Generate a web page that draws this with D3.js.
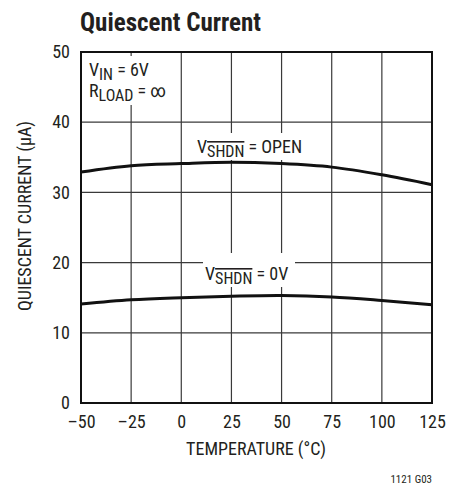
<!DOCTYPE html>
<html>
<head>
<meta charset="utf-8">
<script src="https://cdn.jsdelivr.net/npm/d3@7"></script>
<style>
  body { margin: 0; background: #fff; }
  text { font-family: "Roboto Condensed", "DejaVu Sans Condensed", sans-serif; fill: #231f20; }
</style>
</head>
<body>
<div id="chart"></div>
<script>
// chart values
const temps = [-50, -25, 0, 25, 50, 75, 100, 125];
const openCurrent = [32.9, 33.8, 34.1, 34.3, 34.1, 33.6, 32.5, 31.1];
const zeroCurrent = [14.1, 14.7, 15.0, 15.2, 15.3, 15.1, 14.6, 14.0];
const xTicks = [-50, -25, 0, 25, 50, 75, 100, 125];
const yTicks = [0, 10, 20, 30, 40, 50];

const width = 459, height = 489;
const margin = { top: 52, right: 27, bottom: 86, left: 81 };

const svg = d3.select('#chart').append('svg')
    .attr('width', width)
    .attr('height', height);

const xScale = d3.scaleLinear()
    .domain([-50, 125])
    .range([margin.left, width - margin.right]);

const yScale = d3.scaleLinear()
    .domain([0, 50])
    .range([height - margin.bottom, margin.top]);

const fmt = d => d < 0 ? '\u2013' + Math.abs(d) : String(d);

// grid lines
const grid = svg.append('g');
grid.selectAll('.vg')
    .data(xTicks)
    .enter().append('line')
    .attr('x1', d => xScale(d)).attr('x2', d => xScale(d))
    .attr('y1', yScale(0)).attr('y2', yScale(50))
    .attr('stroke', '#3a3a3a').attr('stroke-width', 1.2);
grid.selectAll('.hg')
    .data(yTicks)
    .enter().append('line')
    .attr('x1', xScale(-50)).attr('x2', xScale(125))
    .attr('y1', d => yScale(d)).attr('y2', d => yScale(d))
    .attr('stroke', '#3a3a3a').attr('stroke-width', 1.2);

// axes (labels only, the frame is drawn separately)
const xAxis = d3.axisBottom(xScale).tickValues(xTicks).tickSize(0).tickPadding(12).tickFormat(fmt);
svg.append('g')
    .attr('transform', `translate(0,${yScale(0)})`)
    .call(xAxis)
    .call(g => g.select('.domain').remove())
    .selectAll('text')
    .style('font-size', '18px')
    .attr('font-family', null);

const yAxis = d3.axisLeft(yScale).tickValues(yTicks).tickSize(0).tickPadding(11).tickFormat(fmt);
svg.append('g')
    .attr('transform', `translate(${xScale(-50)},0)`)
    .call(yAxis)
    .call(g => g.select('.domain').remove())
    .selectAll('text')
    .style('font-size', '18px')
    .attr('font-family', null);

// frame
svg.append('rect')
    .attr('x', xScale(-50)).attr('y', yScale(50))
    .attr('width', xScale(125) - xScale(-50))
    .attr('height', yScale(0) - yScale(50))
    .attr('fill', 'none')
    .attr('stroke', '#111')
    .attr('stroke-width', 2);

// white boxes behind annotations
function labelBox(x, y, w, h) {
    svg.append('rect')
        .attr('x', x).attr('y', y).attr('width', w).attr('height', h)
        .attr('fill', '#fff');
}
labelBox(83, 56, 92, 49);
labelBox(193, 133, 119, 27);
labelBox(203, 253, 92, 34);

// curves
const line = d3.line()
    .x(d => xScale(d[0]))
    .y(d => yScale(d[1]))
    .curve(d3.curveCatmullRom);

[openCurrent, zeroCurrent].forEach(series => {
    svg.append('path')
        .datum(d3.zip(temps, series))
        .attr('fill', 'none')
        .attr('stroke', '#111')
        .attr('stroke-width', 3)
        .attr('d', line);
});

// annotations
function annot(x, y, parts) {
    const t = svg.append('text')
        .attr('x', x).attr('y', y)
        .style('font-size', '18px');
    parts.forEach(p => {
        const ts = t.append('tspan').text(p.t);
        if (p.sub) ts.attr('dy', 4).style('font-size', '16px');
        if (p.back) ts.attr('dy', -4);
        if (p.over) ts.attr('text-decoration', 'overline');
    });
    return t;
}

annot(89, 76, [{ t: 'V' }, { t: 'IN', sub: true }, { t: ' = 6V', back: true }]);
annot(89, 97, [{ t: 'R' }, { t: 'LOAD', sub: true }, { t: ' = \u221E', back: true }]);
annot(197, 153, [{ t: 'V' }, { t: 'SHDN', sub: true, over: true }, { t: ' = OPEN', back: true }]);
annot(205, 280, [{ t: 'V' }, { t: 'SHDN', sub: true, over: true }, { t: ' = 0V', back: true }]);

// title
svg.append('text')
    .attr('x', 80).attr('y', 31)
    .style('font-size', '25px')
    .style('font-weight', 'bold')
    .text('Quiescent Current');

// axis titles
svg.append('text')
    .attr('x', 256).attr('y', 455)
    .attr('text-anchor', 'middle')
    .style('font-size', '18px')
    .text('TEMPERATURE (\u00B0C)');

svg.append('text')
    .attr('transform', `translate(31,216) rotate(-90)`)
    .attr('text-anchor', 'middle')
    .style('font-size', '18px')
    .text('QUIESCENT CURRENT (\u03BCA)');

svg.append('text')
    .attr('x', xScale(125)).attr('y', 483)
    .attr('text-anchor', 'end')
    .style('font-size', '11px')
    .text('1121 G03');
</script>
</body>
</html>
